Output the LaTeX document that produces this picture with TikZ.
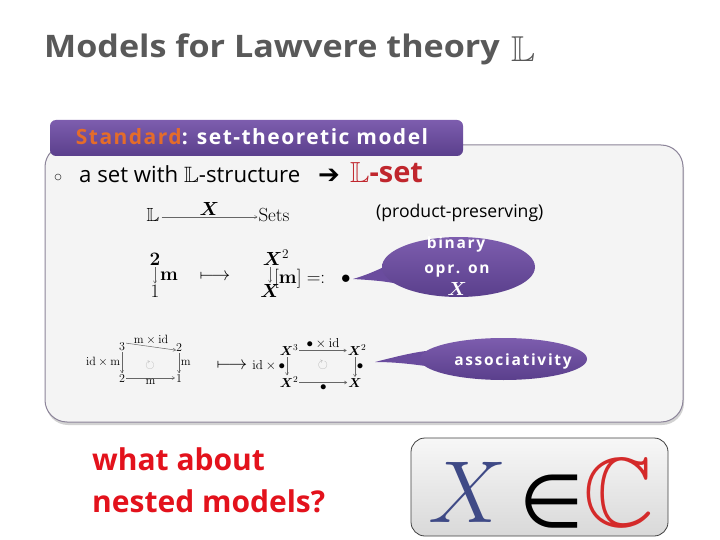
\RequirePackage{fix-cm}
\documentclass[tikz,border=0pt]{standalone}
\usepackage{amsmath,amssymb,bm}
\usepackage[no-math]{fontspec}
\newfontfamily\osans{Open Sans}
\newfontfamily\dejavu{DejaVu Sans}
\usetikzlibrary{arrows.meta,shadows}
\definecolor{titlegray}{HTML}{595959}
\definecolor{purpTop}{HTML}{7D5DAE}
\definecolor{purpBot}{HTML}{5A3F8C}
\definecolor{purpMid}{HTML}{6A4C9E}
\definecolor{stdorange}{HTML}{E46C2A}
\definecolor{lsetred}{HTML}{C0262D}
\definecolor{nestred}{HTML}{E3121C}
\definecolor{boxfill}{HTML}{F4F4F4}
\definecolor{boxline}{HTML}{8C8499}
\definecolor{xblue}{HTML}{3F4A86}
\definecolor{cred}{HTML}{D42A2A}
\tikzset{
  txt/.style={inner sep=0pt, anchor=base},
  cd/.style={draw=black!60, line width=0.5pt, -{To[length=3pt,width=3.5pt]}},
  cdlbl/.style={inner sep=1.5pt},
  bubbletxt/.style={inner sep=0pt, anchor=base, text=white,
    font=\osans\bfseries\fontsize{15.5}{18}\selectfont\addfontfeatures{LetterSpace=11}},
  mainbox/.style={rectangle, minimum width=638pt, minimum height=277pt,
    rounded corners=22pt, fill=boxfill, draw=boxline, line width=1pt,
    preaction={draw=white, line width=5pt},
    drop shadow={shadow xshift=1pt, shadow yshift=-3pt, opacity=0.35}},
  hdr/.style={rectangle, rounded corners=6pt, top color=purpTop, bottom color=purpBot,
    minimum width=413pt, minimum height=36pt, inner sep=0pt},
  xbox/.style={rectangle, rounded corners=14pt, top color=gray!6, bottom color=gray!30,
    draw=black!75, line width=0.8pt, minimum width=257pt, minimum height=98pt},
  bigsym/.style={inner sep=3pt, anchor=base},
  bigfont/.style={font=\fontsize{19}{22}\selectfont},
  smallfont/.style={font=\fontsize{12}{13}\selectfont},
  midfont/.style={font=\fontsize{13}{14}\selectfont},
}
\begin{document}
\begin{tikzpicture}[x=1pt,y=-1pt]
\useasboundingbox (0,0) rectangle (720,540);
\fill[white] (0,0) rectangle (720,540);

% title
\node[txt, anchor=base west, xscale=1.1] (title) at (44,58)
  {\osans\bfseries\fontsize{31}{34}\selectfont\color{titlegray}Models for Lawvere theory};
\node[txt, anchor=base west] (titleL) at (511,62)
  {\fontsize{36}{40}\selectfont\color{titlegray}$\mathbb{L}$};

% main box and header
\node[mainbox] (main) at (364,283.5) {};
\node[hdr] (hdr) at (256.5,138) {};
\node[txt] (hdrtxt) at (252,145)
  {\osans\bfseries\fontsize{21}{24}\selectfont\addfontfeatures{LetterSpace=7}\textcolor{stdorange}{Standard}\textcolor{white}{: set-theoretic model}};

% first line
\node[circle, draw=black!70, line width=0.6pt, minimum size=6pt, inner sep=0pt] (bul) at (58,177) {};
\node[txt, anchor=base west] (setwith) at (79,183)
  {\osans\fontsize{22.2}{26}\selectfont a set with $\mathbb{L}$-structure};
\node[txt] (arr) at (329,184) {\dejavu\fontsize{26}{28}\selectfont ➔};
\node[txt, anchor=base west] (lset) at (350,183)
  {\osans\bfseries\fontsize{29}{32}\selectfont\color{lsetred}$\mathbb{L}$-set};

% row 1
\node[txt, bigfont] (Lc) at (153,222) {$\mathbb{L}$};
\node[txt, bigfont] (Sets) at (274,222) {$\mathrm{Sets}$};
\draw[cd] ([yshift=5pt]Lc.base east) ++(2,0) -- ([yshift=5pt,xshift=-1pt]Sets.base west)
  node[midway, above, cdlbl, bigfont] (lblX) {$\bm{X}$};
\node[txt, anchor=base west] (prodpres) at (376,218)
  {\osans\fontsize{17.6}{20}\selectfont (product-preserving)};

% row 2
\node[txt, bigfont] (two) at (155,265) {$\mathbf{2}$};
\node[txt, bigfont] (one) at (155,297) {$1$};
\draw[cd, shorten <=2pt, shorten >=1pt] (two.south) -- (one.north);
\node[txt, bigfont, anchor=base west] (mlbl) at (160,280) {$\mathbf{m}$};
\node[txt, bigfont] (mapsA) at (215,280) {$\longmapsto$};
\node[txt, bigfont] (Xsq) at (276,265) {$\bm{X}^2$};
\node[txt, bigfont] (Xone) at (270,297) {$\bm{X}$};
\draw[cd, shorten <=2pt, shorten >=1pt] (Xone.north |- Xsq.south) -- (Xone.north);
\node[txt, bigfont, anchor=base west] (mdef) at (274,283) {$[\mathbf{m}] =:\;\;\bullet$};

% binary bubble
\coordinate (tipA) at (353,279);
\fill[purpMid] (tipA) .. controls (370,274) and (382,268) .. (394,262)
   -- (398,284) .. controls (385,281) and (370,280) .. (tipA) -- cycle;
\shade[top color=purpTop, bottom color=purpBot] (458.5,267) ellipse [x radius=76.5, y radius=30];
\node[bubbletxt] (binA) at (456,248) {binary};
\node[bubbletxt] (binB) at (457,273) {opr. on};
\node[bubbletxt, font=\fontsize{19}{20}\selectfont] (binC) at (457,295) {$\bm{X}$};

% row 3 left square
\begin{scope}[smallfont]
\node[txt] (s3) at (122,350) {$3$};
\node[txt] (s2a) at (179,351) {$2$};
\node[txt] (s2b) at (122,382) {$2$};
\node[txt] (s1) at (179,382) {$1$};
\draw[cd] (s3.east) ++(1,-3) -- ([yshift=-3pt]s2a.west)
  node[midway, above, cdlbl] (lmid) {$\mathrm{m}\times\mathrm{id}$};
\draw[cd, shorten <=2pt, shorten >=1pt] (s3.south) -- (s2b.north)
  node[midway, left, cdlbl] (lidm) {$\mathrm{id}\times\mathrm{m}$};
\draw[cd, shorten <=2pt, shorten >=1pt] (s2a.south) -- (s1.north)
  node[midway, right, cdlbl] (lm1) {$\mathrm{m}$};
\draw[cd] ([yshift=4pt]s2b.base east) ++(1,0) -- ([yshift=4pt,xshift=-1pt]s1.base west)
  node[midway, below, cdlbl] (lm2) {$\mathrm{m}$};
\node[text=black!35] (circL) at (150,365) {$\circlearrowright$};
\end{scope}
\node[txt, bigfont] (mapsB) at (232,369) {$\longmapsto$};

% row 3 right square
\begin{scope}[midfont]
\node[txt] (X3) at (289,355) {$\bm{X}^3$};
\node[txt] (X2a) at (357,355) {$\bm{X}^2$};
\node[txt] (X2b) at (289,387) {$\bm{X}^2$};
\node[txt] (X1) at (355,387) {$\bm{X}$};
\draw[cd] ([yshift=4.5pt]X3.base east) ++(1,0) -- ([yshift=4.5pt,xshift=-1pt]X2a.base west)
  node[midway, above, cdlbl] (rbid) {$\bullet\times\mathrm{id}$};
\draw[cd, shorten <=2pt, shorten >=1pt] ([xshift=-2pt]X3.south) -- ([xshift=-2pt]X2b.north)
  node[midway, left, cdlbl] (ridb) {$\mathrm{id}\times\bullet$};
\draw[cd, shorten <=2pt, shorten >=1pt] (X1.north |- X2a.south) -- (X1.north)
  node[midway, right, cdlbl] (rb1) {$\bullet$};
\draw[cd] ([yshift=4.5pt]X2b.base east) ++(1,0) -- ([yshift=4.5pt,xshift=-1pt]X1.base west)
  node[midway, below, cdlbl] (rb2) {$\bullet$};
\node[text=black!35] (circR) at (323,365) {$\circlearrowright$};
\end{scope}

% associativity bubble
\coordinate (tipB) at (375,362);
\fill[purpMid] (tipB) .. controls (395,357) and (410,353) .. (426,351)
   -- (426,366) .. controls (410,364) and (395,362) .. (tipB) -- cycle;
\shade[top color=purpTop, bottom color=purpBot] (503.5,359) ellipse [x radius=83.5, y radius=21];
\node[bubbletxt] (assoc) at (513,365) {associativity};

% nested models
\node[txt, anchor=base west] (whatA) at (92,470)
  {\osans\bfseries\fontsize{30}{34}\selectfont\color{nestred}what about};
\node[txt, anchor=base west] (whatB) at (92,512)
  {\osans\bfseries\fontsize{30}{34}\selectfont\color{nestred}nested models?};

% X in C box
\node[xbox] (xbox) at (539.5,487) {};
\node[bigsym] (bigX) at (468,522) {\fontsize{88}{90}\selectfont\color{xblue}$X$};
\node[bigsym] (bigin) at (552,527) {\dejavu\fontsize{74}{76}\selectfont ∈};
\node[bigsym] (bigC) at (619,526) {\fontsize{98}{100}\selectfont\color{cred}$\mathbb{C}$};
\end{tikzpicture}
\end{document}
